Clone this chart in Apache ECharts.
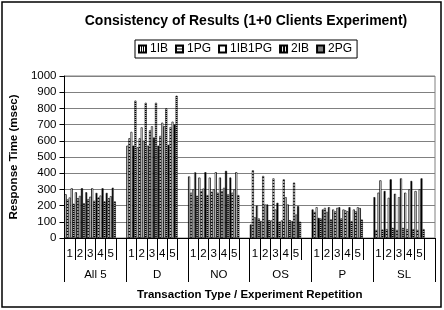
<!DOCTYPE html>
<html>
<head>
<meta charset="utf-8">
<script src="https://cdn.jsdelivr.net/npm/echarts@6/dist/echarts.min.js"></script>
<style>
  html, body { margin: 0; padding: 0; background: #fff; }
  #chart { width: 444px; height: 310px; }
</style>
</head>
<body>
<div id="chart"></div>
<script>
// groups (transaction type) and repetitions
var groups = ["All 5", "D", "NO", "OS", "P", "SL"];
var reps = ["1", "2", "3", "4", "5"];
var yTicks = [0, 100, 200, 300, 400, 500, 600, 700, 800, 900, 1000];

// response times (msec), 5 reps per group, group order as above
var ib1 = [270, 282, 282, 278, 278, 570, 560, 570, 570, 575, 380, 373, 373, 373, 373,
  83, 104, 108, 108, 104, 176, 176, 176, 176, 176, 252, 290, 273, 280, 290];
var pg1 = [238, 245, 240, 250, 245, 615, 615, 665, 630, 685, 280, 290, 285, 290, 280,
  418, 383, 368, 362, 342, 161, 186, 165, 170, 165, 50, 55, 50, 55, 50];
var ib1pg1 = [250, 260, 255, 262, 258, 655, 683, 690, 712, 718, 300, 305, 300, 310, 300,
  128, 207, 176, 252, 145, 190, 161, 186, 165, 190, 280, 248, 252, 300, 300];
var ib2 = [307, 307, 307, 307, 310, 570, 600, 620, 690, 700, 405, 406, 406, 414, 406,
  200, 207, 217, 207, 197, 124, 190, 190, 190, 185, 356, 362, 368, 352, 368];
var pg2 = [211, 215, 230, 226, 226, 848, 835, 835, 800, 878, 260, 265, 280, 269, 265,
  120, 110, 100, 110, 100, 120, 115, 120, 104, 114, 52, 62, 62, 55, 55];

// each group gets an empty slot after rep 5
var cats = [];
groups.forEach(function () {
  reps.forEach(function (r) { cats.push(r); });
  cats.push("");
});
function withGaps(vals) {
  var out = [];
  for (var g = 0; g < groups.length; g++) {
    for (var i = 0; i < reps.length; i++) out.push(vals[g * reps.length + i]);
    out.push(null);
  }
  return out;
}

function pattern(draw, w, h) {
  var c = document.createElement("canvas");
  c.width = w; c.height = h;
  var ctx = c.getContext("2d");
  ctx.fillStyle = "#fff";
  ctx.fillRect(0, 0, w, h);
  ctx.fillStyle = "#000";
  draw(ctx);
  return { image: c, repeat: "repeat" };
}
var vStripes = pattern(function (ctx) { ctx.fillRect(0, 0, 1, 2); }, 2, 2);
var hSparse = pattern(function (ctx) { ctx.fillRect(0, 0, 2, 1); }, 2, 3);
var dark = pattern(function (ctx) { ctx.fillRect(0, 0, 2, 2); }, 3, 2);
var hDense = pattern(function (ctx) { ctx.fillRect(0, 0, 2, 1); }, 2, 2);

var font = "Liberation Sans";
var chart = echarts.init(document.getElementById("chart"));

function bar(name, vals, fill) {
  return {
    name: name,
    type: "bar",
    data: withGaps(vals),
    barGap: "0%",
    barCategoryGap: "2%",
    itemStyle: { color: fill, borderColor: "#000", borderWidth: 0.6 }
  };
}

chart.setOption({
  animation: false,
  textStyle: { fontFamily: font },
  title: {
    text: "Consistency of Results (1+0 Clients Experiment)",
    left: 241,
    textAlign: "center",
    top: 9,
    textStyle: { fontSize: 14, fontWeight: "bold", color: "#000", fontFamily: font }
  },
  legend: {
    top: 40,
    left: 135,
    itemWidth: 7,
    itemHeight: 7,
    itemGap: 7,
    padding: [3, 5, 3, 3],
    borderColor: "#000",
    borderWidth: 1,
    icon: "rect",
    textStyle: { fontSize: 12, color: "#000", fontFamily: font, padding: [0, 0, 0, -1] }
  },
  graphic: [{
    type: "rect",
    shape: { x: 2, y: 2, width: 439, height: 305 },
    style: { fill: null, stroke: "#000", lineWidth: 1.5 },
    silent: true
  }],
  grid: {
    left: 62, right: 9, top: 76, bottom: 72,
    show: true, borderColor: "#808080", borderWidth: 1
  },
  xAxis: [{
    type: "category",
    data: cats,
    axisLine: { lineStyle: { color: "#000", width: 1 } },
    axisTick: { show: true, interval: 0, length: 22, lineStyle: { color: "#000", width: 1 } },
    axisLabel: { interval: 0, margin: 10, fontSize: 11.5, color: "#000" }
  }, {
    type: "category",
    data: groups,
    position: "bottom",
    axisLine: { show: false },
    axisTick: { show: true, interval: 0, length: 44, lineStyle: { color: "#000" } },
    axisLabel: { interval: 0, margin: 31, fontSize: 11.5, color: "#000" },
    name: "Transaction Type / Experiment Repetition",
    nameLocation: "middle",
    nameGap: 51,
    nameTextStyle: { fontSize: 11.5, fontWeight: "bold", color: "#000" }
  }],
  yAxis: {
    type: "value",
    min: yTicks[0],
    max: yTicks[yTicks.length - 1],
    interval: 100,
    name: "Response Time (msec)",
    nameLocation: "middle",
    nameGap: 37,
    nameTextStyle: { fontSize: 11.5, fontWeight: "bold", color: "#000" },
    axisLine: { show: true, lineStyle: { color: "#000" } },
    axisTick: { show: true, length: 5, lineStyle: { color: "#000" } },
    axisLabel: { fontSize: 11.5, color: "#000", margin: 8, formatter: function (v) { return String(v); } },
    splitLine: { lineStyle: { color: "#808080", width: 1 } }
  },
  series: [
    bar("1IB", ib1, vStripes),
    bar("1PG", pg1, hSparse),
    bar("1IB1PG", ib1pg1, "#fff"),
    bar("2IB", ib2, dark),
    bar("2PG", pg2, hDense)
  ]
});
</script>
</body>
</html>
